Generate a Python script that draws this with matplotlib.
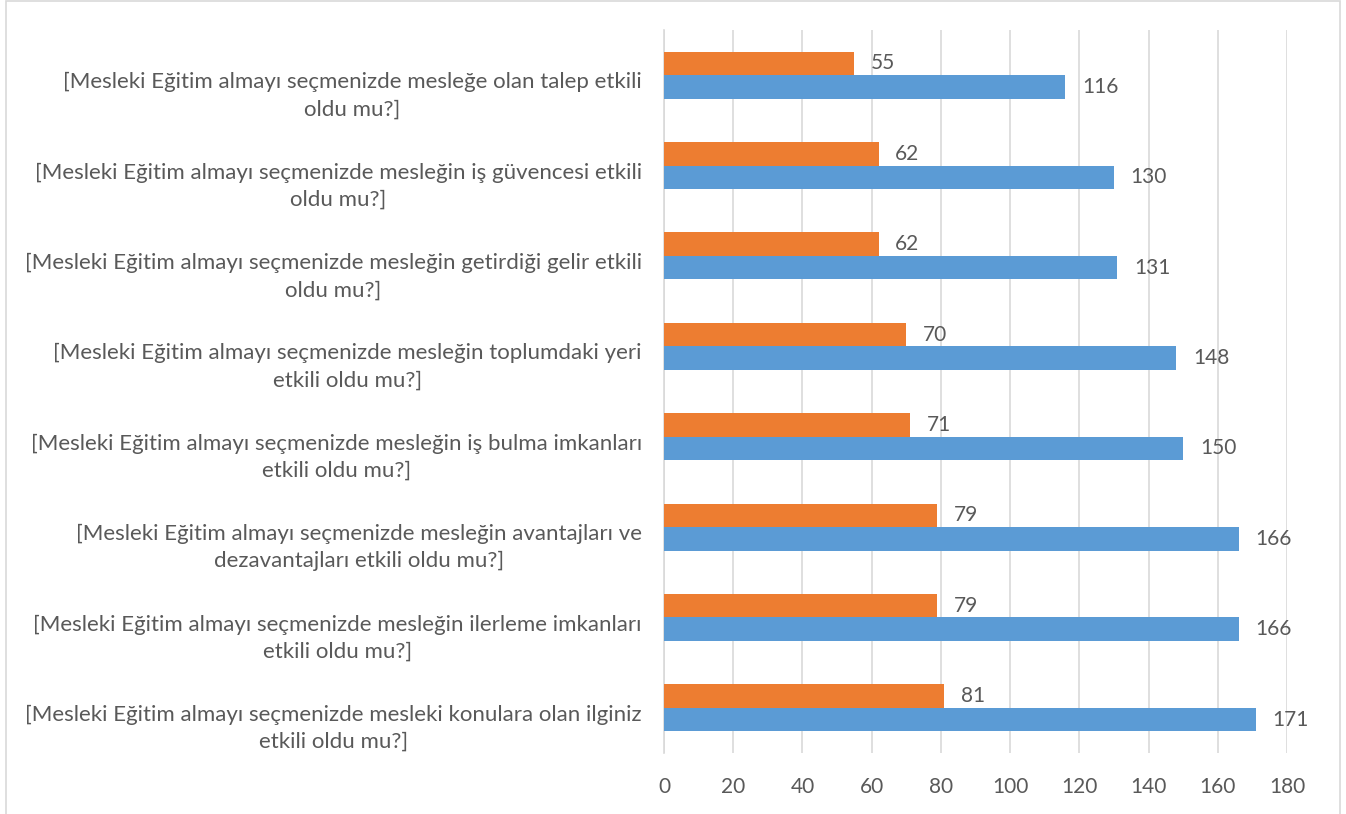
import matplotlib
matplotlib.use("Agg")
import matplotlib.pyplot as plt
import matplotlib.transforms as mtransforms
from matplotlib.patches import Rectangle
import numpy as np

categories = [
    "[Mesleki Eğitim almayı seçmenizde mesleğe olan talep etkili\noldu mu?]",
    "[Mesleki Eğitim almayı seçmenizde mesleğin iş güvencesi etkili\noldu mu?]",
    "[Mesleki Eğitim almayı seçmenizde mesleğin getirdiği gelir etkili\noldu mu?]",
    "[Mesleki Eğitim almayı seçmenizde mesleğin toplumdaki yeri\netkili oldu mu?]",
    "[Mesleki Eğitim almayı seçmenizde mesleğin iş bulma imkanları\netkili oldu mu?]",
    "[Mesleki Eğitim almayı seçmenizde mesleğin avantajları ve\ndezavantajları etkili oldu mu?]",
    "[Mesleki Eğitim almayı seçmenizde mesleğin ilerleme imkanları\netkili oldu mu?]",
    "[Mesleki Eğitim almayı seçmenizde mesleki konulara olan ilginiz\netkili oldu mu?]",
]
orange_values = [55, 62, 62, 70, 71, 79, 79, 81]
blue_values = [116, 130, 131, 148, 150, 166, 166, 171]
x_ticks = [0, 20, 40, 60, 80, 100, 120, 140, 160, 180]

ORANGE = "#ED7D31"
BLUE = "#5B9BD5"
TXT = "#595959"
GRID = "#D9D9D9"
FONT = "Lato"

plt.rcParams['font.family'] = [FONT, 'DejaVu Sans']

fig = plt.figure(figsize=(13.46, 8.14), dpi=100)
ax = fig.add_axes([664/1346, 1 - 753/814, (1287-664)/1346, (753-30)/814])

y = np.arange(len(categories))
h = 0.26
ax.barh(y - h/2, orange_values, height=h, color=ORANGE, zorder=3)
ax.barh(y + h/2, blue_values, height=h, color=BLUE, zorder=3)

for i, (o, b) in enumerate(zip(orange_values, blue_values)):
    ax.annotate(str(o), (o, i - h/2), xytext=(12, 0), textcoords="offset points",
                ha="left", va="center", fontsize=15, color=TXT)
    ax.annotate(str(b), (b, i + h/2), xytext=(12, 0), textcoords="offset points",
                ha="left", va="center", fontsize=15, color=TXT)

ax.set_xlim(0, 180)
ax.set_ylim(len(categories) - 0.5, -0.5)
ax.set_xticks(x_ticks)
ax.set_xticklabels([str(t) for t in x_ticks], fontsize=15, color=TXT)
ax.set_yticks(y)
ax.set_yticklabels(categories, fontsize=16, color=TXT, multialignment="center")
ax.tick_params(axis="both", length=0)
ax.tick_params(axis="x", pad=17)
ax.tick_params(axis="y", pad=16)
offset = mtransforms.ScaledTranslation(0, -15/100, fig.dpi_scale_trans)
for lab in ax.get_yticklabels():
    lab.set_transform(lab.get_transform() + offset)
    lab.set_linespacing(1.45)

ax.grid(axis="x", color=GRID, linewidth=1.2, zorder=0)
for s in ["top", "right", "bottom"]:
    ax.spines[s].set_visible(False)
ax.spines["left"].set_color(GRID)
ax.spines["left"].set_linewidth(1.2)

fig.patches.append(Rectangle((6/1346, -0.01), (1340-6)/1346, 1.01 - 1.5/814,
                             transform=fig.transFigure, fill=False,
                             edgecolor=GRID, linewidth=1.2, clip_on=False))

fig.savefig("out.png", dpi=100)
